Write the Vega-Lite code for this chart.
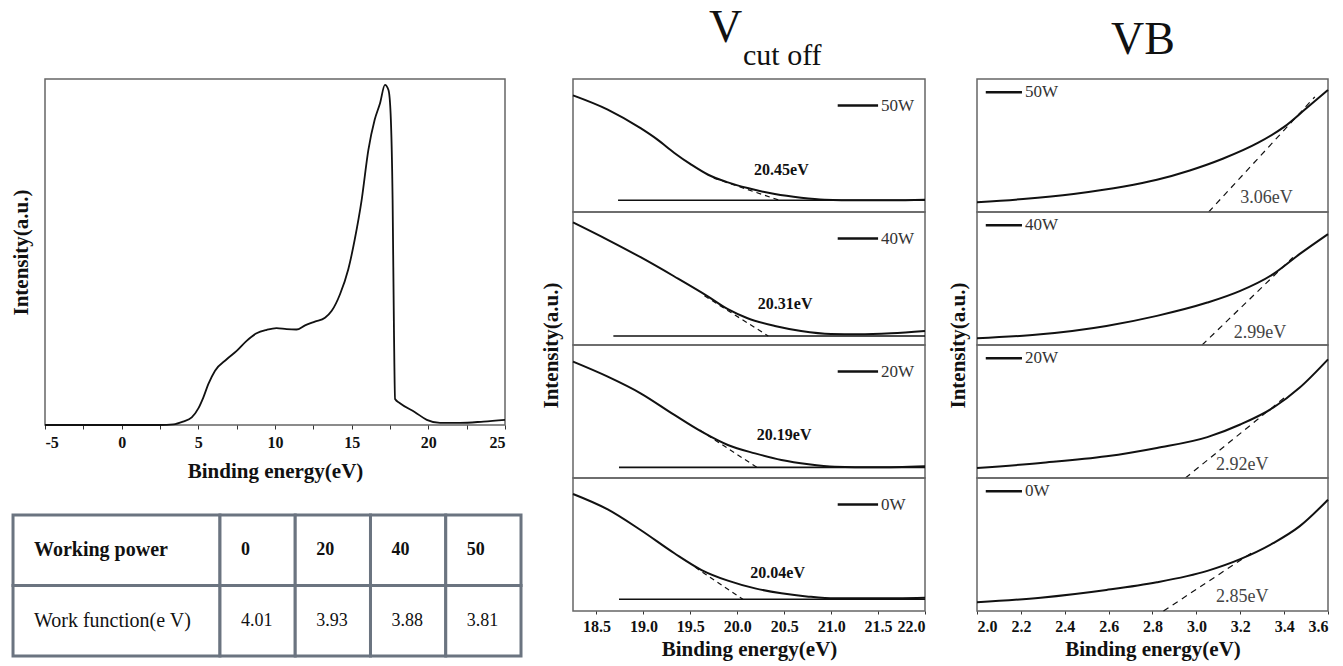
{
  "$schema": "https://vega.github.io/schema/vega-lite/v6.json",
  "padding": {"left": 9, "top": 5, "right": 2, "bottom": 2},
  "spacing": 16,
  "config": {
    "view": {"stroke": "#666", "strokeWidth": 1.5},
    "axis": {"labelFont": "Liberation Serif", "titleFont": "Liberation Serif", "labelFontWeight": "bold", "titleFontWeight": "bold", "labelColor": "#111", "titleColor": "#111", "grid": false, "tickColor": "#333"},
    "title": {"font": "Liberation Serif", "fontSize": 46, "fontWeight": "normal", "anchor": "start", "frame": "group", "color": "#111", "offset": 5}
  },
  "datasets": {
    "ups": [
      {"E": -5, "I": 0}, {"E": -2.5, "I": 0}, {"E": 0, "I": 0}, {"E": 2.5, "I": 0}, {"E": 3.37, "I": 0.2}, {"E": 4.0, "I": 1}, {"E": 4.57, "I": 2.2}, {"E": 5.0, "I": 4.8}, {"E": 5.33, "I": 8}, {"E": 5.65, "I": 11.8}, {"E": 6.09, "I": 15.7}, {"E": 6.85, "I": 19}, {"E": 7.5, "I": 21.4}, {"E": 8.15, "I": 24.3}, {"E": 8.8, "I": 26.5}, {"E": 9.46, "I": 27.5}, {"E": 10.1, "I": 28}, {"E": 10.76, "I": 27.7}, {"E": 11.4, "I": 27.6}, {"E": 11.96, "I": 28.8}, {"E": 12.6, "I": 29.9}, {"E": 13.26, "I": 31}, {"E": 13.7, "I": 33}, {"E": 14.24, "I": 37.8}, {"E": 14.78, "I": 45}, {"E": 15.2, "I": 53.6}, {"E": 15.65, "I": 65}, {"E": 16.09, "I": 79.5}, {"E": 16.5, "I": 88.2}, {"E": 16.85, "I": 93}, {"E": 17.17, "I": 98.3}, {"E": 17.4, "I": 96.8}, {"E": 17.54, "I": 90}, {"E": 17.67, "I": 65}, {"E": 17.76, "I": 26.7}, {"E": 17.83, "I": 7.5}, {"E": 18.15, "I": 6.3}, {"E": 19.13, "I": 3.7}, {"E": 19.9, "I": 1.5}, {"E": 20.76, "I": 0.6}, {"E": 22.07, "I": 0.6}, {"E": 23.6, "I": 1}, {"E": 25, "I": 1.5}
    ],
    "cut": [
      {"p": "50W", "k": "curve", "E": 18.25, "I": 87.7}, {"p": "50W", "k": "curve", "E": 18.62, "I": 77}, {"p": "50W", "k": "curve", "E": 18.97, "I": 63}, {"p": "50W", "k": "curve", "E": 19.15, "I": 54.4}, {"p": "50W", "k": "curve", "E": 19.33, "I": 44.4}, {"p": "50W", "k": "curve", "E": 19.51, "I": 35.6}, {"p": "50W", "k": "curve", "E": 19.69, "I": 28}, {"p": "50W", "k": "curve", "E": 19.9, "I": 22.3}, {"p": "50W", "k": "curve", "E": 20.11, "I": 18}, {"p": "50W", "k": "curve", "E": 20.4, "I": 13.5}, {"p": "50W", "k": "curve", "E": 20.68, "I": 10.8}, {"p": "50W", "k": "curve", "E": 20.93, "I": 9.3}, {"p": "50W", "k": "curve", "E": 21.29, "I": 8.8}, {"p": "50W", "k": "curve", "E": 21.64, "I": 8.8}, {"p": "50W", "k": "curve", "E": 22.0, "I": 9.3},
      {"p": "50W", "k": "base", "E": 18.73, "I": 8.8}, {"p": "50W", "k": "base", "E": 22.0, "I": 8.8},
      {"p": "50W", "k": "tan", "E": 19.75, "I": 25.5}, {"p": "50W", "k": "tan", "E": 20.45, "I": 8.8},
      {"p": "40W", "k": "curve", "E": 18.25, "I": 92.2}, {"p": "40W", "k": "curve", "E": 18.62, "I": 79.1}, {"p": "40W", "k": "curve", "E": 18.97, "I": 66}, {"p": "40W", "k": "curve", "E": 19.33, "I": 51.5}, {"p": "40W", "k": "curve", "E": 19.69, "I": 36.4}, {"p": "40W", "k": "curve", "E": 19.9, "I": 26.9}, {"p": "40W", "k": "curve", "E": 20.11, "I": 20.1}, {"p": "40W", "k": "curve", "E": 20.4, "I": 14.3}, {"p": "40W", "k": "curve", "E": 20.68, "I": 10.6}, {"p": "40W", "k": "curve", "E": 21.0, "I": 8.3}, {"p": "40W", "k": "curve", "E": 21.29, "I": 8}, {"p": "40W", "k": "curve", "E": 21.64, "I": 8.8}, {"p": "40W", "k": "curve", "E": 22.0, "I": 10.6},
      {"p": "40W", "k": "base", "E": 18.68, "I": 6.8}, {"p": "40W", "k": "base", "E": 22.0, "I": 6.8},
      {"p": "40W", "k": "tan", "E": 19.65, "I": 37}, {"p": "40W", "k": "tan", "E": 20.33, "I": 6.8},
      {"p": "20W", "k": "curve", "E": 18.25, "I": 87.5}, {"p": "20W", "k": "curve", "E": 18.62, "I": 76.2}, {"p": "20W", "k": "curve", "E": 18.97, "I": 63.7}, {"p": "20W", "k": "curve", "E": 19.33, "I": 47.4}, {"p": "20W", "k": "curve", "E": 19.62, "I": 34.8}, {"p": "20W", "k": "curve", "E": 19.9, "I": 24.8}, {"p": "20W", "k": "curve", "E": 20.19, "I": 18.5}, {"p": "20W", "k": "curve", "E": 20.47, "I": 13.5}, {"p": "20W", "k": "curve", "E": 20.76, "I": 10.3}, {"p": "20W", "k": "curve", "E": 21.04, "I": 8.5}, {"p": "20W", "k": "curve", "E": 21.47, "I": 8}, {"p": "20W", "k": "curve", "E": 22.0, "I": 8.8},
      {"p": "20W", "k": "base", "E": 18.74, "I": 8}, {"p": "20W", "k": "base", "E": 22.0, "I": 8},
      {"p": "20W", "k": "tan", "E": 19.6, "I": 36}, {"p": "20W", "k": "tan", "E": 20.21, "I": 8},
      {"p": "0W", "k": "curve", "E": 18.25, "I": 88}, {"p": "0W", "k": "curve", "E": 18.62, "I": 76.4}, {"p": "0W", "k": "curve", "E": 18.97, "I": 60.9}, {"p": "0W", "k": "curve", "E": 19.33, "I": 43.4}, {"p": "0W", "k": "curve", "E": 19.62, "I": 30.8}, {"p": "0W", "k": "curve", "E": 19.9, "I": 22.8}, {"p": "0W", "k": "curve", "E": 20.19, "I": 17}, {"p": "0W", "k": "curve", "E": 20.47, "I": 13.3}, {"p": "0W", "k": "curve", "E": 20.76, "I": 10.8}, {"p": "0W", "k": "curve", "E": 21.04, "I": 9.5}, {"p": "0W", "k": "curve", "E": 21.47, "I": 9.5}, {"p": "0W", "k": "curve", "E": 22.0, "I": 10},
      {"p": "0W", "k": "base", "E": 18.74, "I": 8.8}, {"p": "0W", "k": "base", "E": 22.0, "I": 8.8},
      {"p": "0W", "k": "tan", "E": 19.55, "I": 33}, {"p": "0W", "k": "tan", "E": 20.06, "I": 8.8}
    ],
    "vb": [
      {"p": "50W", "k": "curve", "E": 2.0, "I": 7.3}, {"p": "50W", "k": "curve", "E": 2.21, "I": 9.8}, {"p": "50W", "k": "curve", "E": 2.44, "I": 13.6}, {"p": "50W", "k": "curve", "E": 2.67, "I": 19.1}, {"p": "50W", "k": "curve", "E": 2.82, "I": 24.2}, {"p": "50W", "k": "curve", "E": 2.97, "I": 31.2}, {"p": "50W", "k": "curve", "E": 3.12, "I": 40}, {"p": "50W", "k": "curve", "E": 3.28, "I": 51.9}, {"p": "50W", "k": "curve", "E": 3.4, "I": 64}, {"p": "50W", "k": "curve", "E": 3.5, "I": 77.8}, {"p": "50W", "k": "curve", "E": 3.6, "I": 91.7},
      {"p": "50W", "k": "tan", "E": 3.056, "I": 0}, {"p": "50W", "k": "tan", "E": 3.54, "I": 86.6},
      {"p": "40W", "k": "curve", "E": 2.0, "I": 5}, {"p": "40W", "k": "curve", "E": 2.29, "I": 8}, {"p": "40W", "k": "curve", "E": 2.59, "I": 14.3}, {"p": "40W", "k": "curve", "E": 2.82, "I": 21.9}, {"p": "40W", "k": "curve", "E": 3.05, "I": 31.9}, {"p": "40W", "k": "curve", "E": 3.2, "I": 40.7}, {"p": "40W", "k": "curve", "E": 3.35, "I": 53.3}, {"p": "40W", "k": "curve", "E": 3.47, "I": 68.3}, {"p": "40W", "k": "curve", "E": 3.6, "I": 83.4},
      {"p": "40W", "k": "tan", "E": 3.026, "I": 0}, {"p": "40W", "k": "tan", "E": 3.44, "I": 65.8},
      {"p": "20W", "k": "curve", "E": 2.0, "I": 7.5}, {"p": "20W", "k": "curve", "E": 2.29, "I": 11.3}, {"p": "20W", "k": "curve", "E": 2.59, "I": 16.3}, {"p": "20W", "k": "curve", "E": 2.82, "I": 22.6}, {"p": "20W", "k": "curve", "E": 3.05, "I": 30.7}, {"p": "20W", "k": "curve", "E": 3.2, "I": 40.2}, {"p": "20W", "k": "curve", "E": 3.35, "I": 52.8}, {"p": "20W", "k": "curve", "E": 3.47, "I": 67.8}, {"p": "20W", "k": "curve", "E": 3.6, "I": 89.2},
      {"p": "20W", "k": "tan", "E": 2.95, "I": 0}, {"p": "20W", "k": "tan", "E": 3.41, "I": 61.6},
      {"p": "0W", "k": "curve", "E": 2.0, "I": 6.5}, {"p": "0W", "k": "curve", "E": 2.29, "I": 10}, {"p": "0W", "k": "curve", "E": 2.59, "I": 15.8}, {"p": "0W", "k": "curve", "E": 2.82, "I": 21.6}, {"p": "0W", "k": "curve", "E": 3.05, "I": 30.2}, {"p": "0W", "k": "curve", "E": 3.2, "I": 39}, {"p": "0W", "k": "curve", "E": 3.35, "I": 51}, {"p": "0W", "k": "curve", "E": 3.47, "I": 63.6}, {"p": "0W", "k": "curve", "E": 3.6, "I": 83.7},
      {"p": "0W", "k": "tan", "E": 2.85, "I": 0}, {"p": "0W", "k": "tan", "E": 3.25, "I": 43.5}
    ],
    "ann": [
      {"c": "cut", "p": "50W", "E": 20.47, "I": 31.3, "t": "20.45eV"},
      {"c": "cut", "p": "40W", "E": 20.51, "I": 30.9, "t": "20.31eV"},
      {"c": "cut", "p": "20W", "E": 20.5, "I": 32.3, "t": "20.19eV"},
      {"c": "cut", "p": "0W", "E": 20.43, "I": 28.3, "t": "20.04eV"},
      {"c": "vb", "p": "50W", "E": 3.2, "I": 10.3, "t": "3.06eV"},
      {"c": "vb", "p": "40W", "E": 3.17, "I": 9.3, "t": "2.99eV"},
      {"c": "vb", "p": "20W", "E": 3.09, "I": 10, "t": "2.92eV"},
      {"c": "vb", "p": "0W", "E": 3.09, "I": 10.8, "t": "2.85eV"}
    ],
    "leg": [
      {"c": "cut", "p": "50W", "E1": 21.07, "E2": 21.5, "I": 80, "t": "50W"},
      {"c": "cut", "p": "40W", "E1": 21.07, "E2": 21.5, "I": 80, "t": "40W"},
      {"c": "cut", "p": "20W", "E1": 21.07, "E2": 21.5, "I": 80, "t": "20W"},
      {"c": "cut", "p": "0W", "E1": 21.07, "E2": 21.5, "I": 80, "t": "0W"},
      {"c": "vb", "p": "50W", "E1": 2.04, "E2": 2.205, "I": 90, "t": "50W"},
      {"c": "vb", "p": "40W", "E1": 2.04, "E2": 2.205, "I": 90, "t": "40W"},
      {"c": "vb", "p": "20W", "E1": 2.04, "E2": 2.205, "I": 90, "t": "20W"},
      {"c": "vb", "p": "0W", "E1": 2.04, "E2": 2.205, "I": 90, "t": "0W"}
    ],
    "tbl": [
      {"row": 1, "c0": 0, "c1": 2.75, "t": "Working power", "w": "bold"},
      {"row": 1, "c0": 2.75, "c1": 3.75, "t": "0", "w": "bold"},
      {"row": 1, "c0": 3.75, "c1": 4.75, "t": "20", "w": "bold"},
      {"row": 1, "c0": 4.75, "c1": 5.75, "t": "40", "w": "bold"},
      {"row": 1, "c0": 5.75, "c1": 6.75, "t": "50", "w": "bold"},
      {"row": 2, "c0": 0, "c1": 2.75, "t": "Work function(e  V)", "w": "normal"},
      {"row": 2, "c0": 2.75, "c1": 3.75, "t": "4.01", "w": "normal"},
      {"row": 2, "c0": 3.75, "c1": 4.75, "t": "3.93", "w": "normal"},
      {"row": 2, "c0": 4.75, "c1": 5.75, "t": "3.88", "w": "normal"},
      {"row": 2, "c0": 5.75, "c1": 6.75, "t": "3.81", "w": "normal"}
    ]
  },
  "hconcat": [
    {
      "title": {"text": "\u00a0", "offset": 21},
      "spacing": 31,
      "vconcat": [
        {
          "width": 460, "height": 346,
          "data": {"name": "ups"},
          "mark": {"type": "line", "color": "#111", "strokeWidth": 1.8, "interpolate": "monotone"},
          "encoding": {
            "x": {"field": "E", "type": "quantitative", "scale": {"domain": [-5, 25], "nice": false, "zero": false},
                  "axis": {"title": "Binding energy(eV)", "values": [-5, -2.5, 0, 2.5, 5, 7.5, 10, 12.5, 15, 17.5, 20, 22.5, 25], "labelExpr": "datum.value % 5 === 0 ? datum.value + '' : ''", "domain": false, "tickSize": 4, "labelFont": "Liberation Serif", "labelFontWeight": "bold", "labelFontSize": 16, "titleFontSize": 21, "labelPadding": 5, "titlePadding": 10}},
            "y": {"field": "I", "type": "quantitative", "scale": {"domain": [0, 100], "nice": false},
                  "axis": {"title": "Intensity(a.u.)", "labels": false, "ticks": false, "domain": false, "titleFontSize": 21, "titlePadding": 14}}
          }
        },
        {
          "width": 476, "height": 141,
          "view": {"stroke": null},
          "data": {"name": "tbl"},
          "layer": [
            {"mark": {"type": "rect", "fill": "white", "stroke": "#6b7480", "strokeWidth": 3},
             "encoding": {
               "x": {"field": "c0", "type": "quantitative", "scale": {"domain": [0.425, 6.75], "nice": false, "zero": false}, "axis": null},
               "x2": {"field": "c1"},
               "y": {"field": "row", "type": "ordinal", "scale": {"paddingInner": 0, "paddingOuter": 0}, "axis": null}
             }},
            {"transform": [{"filter": "datum.w === 'bold'"}],
             "mark": {"type": "text", "align": "left", "baseline": "middle", "dx": 21, "font": "Liberation Serif", "fontWeight": "bold", "color": "#111"},
             "encoding": {
               "x": {"field": "c0", "type": "quantitative"},
               "y": {"field": "row", "type": "ordinal"},
               "text": {"field": "t"},
               "size": {"condition": {"test": "datum.c0 === 0", "value": 20}, "value": 18}
             }},
            {"transform": [{"filter": "datum.w === 'normal'"}],
             "mark": {"type": "text", "align": "left", "baseline": "middle", "dx": 21, "font": "Liberation Serif", "fontWeight": "normal", "color": "#111"},
             "encoding": {
               "x": {"field": "c0", "type": "quantitative"},
               "y": {"field": "row", "type": "ordinal"},
               "text": {"field": "t"},
               "size": {"condition": {"test": "datum.c0 === 0", "value": 20}, "value": 18}
             }}
          ]
        }
      ]
    },
    {
      "title": {"text": "V", "dx": 136, "offset": -12},
      "bounds": "flush",
      "spacing": 0,
      "vconcat": [
        {"width": 352, "height": 133,
         "title": {"text": "cut off", "fontSize": 30, "dx": 170, "offset": 8},
         "layer": [
           {"data": {"name": "cut"}, "transform": [{"filter": "datum.p === '50W' && datum.k === 'curve'"}], "mark": {"type": "line", "color": "#111", "strokeWidth": 2, "interpolate": "monotone"},
            "encoding": {"x": {"field": "E", "type": "quantitative", "scale": {"domain": [18.25, 22], "nice": false, "zero": false}, "axis": null}, "y": {"field": "I", "type": "quantitative", "scale": {"domain": [0, 100], "nice": false}, "axis": null}}},
           {"data": {"name": "cut"}, "transform": [{"filter": "datum.p === '50W' && datum.k === 'base'"}], "mark": {"type": "line", "color": "#111", "strokeWidth": 1.6},
            "encoding": {"x": {"field": "E", "type": "quantitative"}, "y": {"field": "I", "type": "quantitative"}}},
           {"data": {"name": "cut"}, "transform": [{"filter": "datum.p === '50W' && datum.k === 'tan'"}], "mark": {"type": "line", "color": "#111", "strokeWidth": 1.2, "strokeDash": [5, 4]},
            "encoding": {"x": {"field": "E", "type": "quantitative"}, "y": {"field": "I", "type": "quantitative"}}},
           {"data": {"name": "ann"}, "transform": [{"filter": "datum.c === 'cut' && datum.p === '50W'"}], "mark": {"type": "text", "font": "Liberation Serif", "fontWeight": "bold", "fontSize": 16, "color": "#111"},
            "encoding": {"x": {"field": "E", "type": "quantitative"}, "y": {"field": "I", "type": "quantitative"}, "text": {"field": "t"}}},
           {"data": {"name": "leg"}, "transform": [{"filter": "datum.c === 'cut' && datum.p === '50W'"}], "mark": {"type": "rule", "color": "#111", "strokeWidth": 2.5},
            "encoding": {"x": {"field": "E1", "type": "quantitative"}, "x2": {"field": "E2"}, "y": {"field": "I", "type": "quantitative"}}},
           {"data": {"name": "leg"}, "transform": [{"filter": "datum.c === 'cut' && datum.p === '50W'"}], "mark": {"type": "text", "align": "left", "baseline": "middle", "dx": 3, "font": "Liberation Serif", "fontSize": 17, "color": "#333"},
            "encoding": {"x": {"field": "E2", "type": "quantitative"}, "y": {"field": "I", "type": "quantitative"}, "text": {"field": "t"}}}
         ]},
        {"width": 352, "height": 133,
         "layer": [
           {"data": {"name": "cut"}, "transform": [{"filter": "datum.p === '40W' && datum.k === 'curve'"}], "mark": {"type": "line", "color": "#111", "strokeWidth": 2, "interpolate": "monotone"},
            "encoding": {"x": {"field": "E", "type": "quantitative", "scale": {"domain": [18.25, 22], "nice": false, "zero": false}, "axis": null}, "y": {"field": "I", "type": "quantitative", "scale": {"domain": [0, 100], "nice": false}, "axis": {"title": "Intensity(a.u.)", "labels": false, "ticks": false, "domain": false, "titleFontSize": 21, "titlePadding": 12, "titleY": 133}}}},
           {"data": {"name": "cut"}, "transform": [{"filter": "datum.p === '40W' && datum.k === 'base'"}], "mark": {"type": "line", "color": "#111", "strokeWidth": 1.6},
            "encoding": {"x": {"field": "E", "type": "quantitative"}, "y": {"field": "I", "type": "quantitative"}}},
           {"data": {"name": "cut"}, "transform": [{"filter": "datum.p === '40W' && datum.k === 'tan'"}], "mark": {"type": "line", "color": "#111", "strokeWidth": 1.2, "strokeDash": [5, 4]},
            "encoding": {"x": {"field": "E", "type": "quantitative"}, "y": {"field": "I", "type": "quantitative"}}},
           {"data": {"name": "ann"}, "transform": [{"filter": "datum.c === 'cut' && datum.p === '40W'"}], "mark": {"type": "text", "font": "Liberation Serif", "fontWeight": "bold", "fontSize": 16, "color": "#111"},
            "encoding": {"x": {"field": "E", "type": "quantitative"}, "y": {"field": "I", "type": "quantitative"}, "text": {"field": "t"}}},
           {"data": {"name": "leg"}, "transform": [{"filter": "datum.c === 'cut' && datum.p === '40W'"}], "mark": {"type": "rule", "color": "#111", "strokeWidth": 2.5},
            "encoding": {"x": {"field": "E1", "type": "quantitative"}, "x2": {"field": "E2"}, "y": {"field": "I", "type": "quantitative"}}},
           {"data": {"name": "leg"}, "transform": [{"filter": "datum.c === 'cut' && datum.p === '40W'"}], "mark": {"type": "text", "align": "left", "baseline": "middle", "dx": 3, "font": "Liberation Serif", "fontSize": 17, "color": "#333"},
            "encoding": {"x": {"field": "E2", "type": "quantitative"}, "y": {"field": "I", "type": "quantitative"}, "text": {"field": "t"}}}
         ]},
        {"width": 352, "height": 133,
         "layer": [
           {"data": {"name": "cut"}, "transform": [{"filter": "datum.p === '20W' && datum.k === 'curve'"}], "mark": {"type": "line", "color": "#111", "strokeWidth": 2, "interpolate": "monotone"},
            "encoding": {"x": {"field": "E", "type": "quantitative", "scale": {"domain": [18.25, 22], "nice": false, "zero": false}, "axis": null}, "y": {"field": "I", "type": "quantitative", "scale": {"domain": [0, 100], "nice": false}, "axis": null}}},
           {"data": {"name": "cut"}, "transform": [{"filter": "datum.p === '20W' && datum.k === 'base'"}], "mark": {"type": "line", "color": "#111", "strokeWidth": 1.6},
            "encoding": {"x": {"field": "E", "type": "quantitative"}, "y": {"field": "I", "type": "quantitative"}}},
           {"data": {"name": "cut"}, "transform": [{"filter": "datum.p === '20W' && datum.k === 'tan'"}], "mark": {"type": "line", "color": "#111", "strokeWidth": 1.2, "strokeDash": [5, 4]},
            "encoding": {"x": {"field": "E", "type": "quantitative"}, "y": {"field": "I", "type": "quantitative"}}},
           {"data": {"name": "ann"}, "transform": [{"filter": "datum.c === 'cut' && datum.p === '20W'"}], "mark": {"type": "text", "font": "Liberation Serif", "fontWeight": "bold", "fontSize": 16, "color": "#111"},
            "encoding": {"x": {"field": "E", "type": "quantitative"}, "y": {"field": "I", "type": "quantitative"}, "text": {"field": "t"}}},
           {"data": {"name": "leg"}, "transform": [{"filter": "datum.c === 'cut' && datum.p === '20W'"}], "mark": {"type": "rule", "color": "#111", "strokeWidth": 2.5},
            "encoding": {"x": {"field": "E1", "type": "quantitative"}, "x2": {"field": "E2"}, "y": {"field": "I", "type": "quantitative"}}},
           {"data": {"name": "leg"}, "transform": [{"filter": "datum.c === 'cut' && datum.p === '20W'"}], "mark": {"type": "text", "align": "left", "baseline": "middle", "dx": 3, "font": "Liberation Serif", "fontSize": 17, "color": "#333"},
            "encoding": {"x": {"field": "E2", "type": "quantitative"}, "y": {"field": "I", "type": "quantitative"}, "text": {"field": "t"}}}
         ]},
        {"width": 352, "height": 133,
         "layer": [
           {"data": {"name": "cut"}, "transform": [{"filter": "datum.p === '0W' && datum.k === 'curve'"}], "mark": {"type": "line", "color": "#111", "strokeWidth": 2, "interpolate": "monotone"},
            "encoding": {"x": {"field": "E", "type": "quantitative", "scale": {"domain": [18.25, 22], "nice": false, "zero": false}, "axis": {"title": "Binding energy(eV)", "values": [18.5, 19, 19.5, 20, 20.5, 21, 21.5, 22], "format": ".1f", "labelFlush": true, "domain": false, "tickSize": 3, "labelFont": "Liberation Serif", "labelFontWeight": "bold", "labelFontSize": 16, "titleFontSize": 21, "labelPadding": 4, "titlePadding": 4}}, "y": {"field": "I", "type": "quantitative", "scale": {"domain": [0, 100], "nice": false}, "axis": null}}},
           {"data": {"name": "cut"}, "transform": [{"filter": "datum.p === '0W' && datum.k === 'base'"}], "mark": {"type": "line", "color": "#111", "strokeWidth": 1.6},
            "encoding": {"x": {"field": "E", "type": "quantitative"}, "y": {"field": "I", "type": "quantitative"}}},
           {"data": {"name": "cut"}, "transform": [{"filter": "datum.p === '0W' && datum.k === 'tan'"}], "mark": {"type": "line", "color": "#111", "strokeWidth": 1.2, "strokeDash": [5, 4]},
            "encoding": {"x": {"field": "E", "type": "quantitative"}, "y": {"field": "I", "type": "quantitative"}}},
           {"data": {"name": "ann"}, "transform": [{"filter": "datum.c === 'cut' && datum.p === '0W'"}], "mark": {"type": "text", "font": "Liberation Serif", "fontWeight": "bold", "fontSize": 16, "color": "#111"},
            "encoding": {"x": {"field": "E", "type": "quantitative"}, "y": {"field": "I", "type": "quantitative"}, "text": {"field": "t"}}},
           {"data": {"name": "leg"}, "transform": [{"filter": "datum.c === 'cut' && datum.p === '0W'"}], "mark": {"type": "rule", "color": "#111", "strokeWidth": 2.5},
            "encoding": {"x": {"field": "E1", "type": "quantitative"}, "x2": {"field": "E2"}, "y": {"field": "I", "type": "quantitative"}}},
           {"data": {"name": "leg"}, "transform": [{"filter": "datum.c === 'cut' && datum.p === '0W'"}], "mark": {"type": "text", "align": "left", "baseline": "middle", "dx": 3, "font": "Liberation Serif", "fontSize": 17, "color": "#333"},
            "encoding": {"x": {"field": "E2", "type": "quantitative"}, "y": {"field": "I", "type": "quantitative"}, "text": {"field": "t"}}}
         ]}
      ]
    },
    {
      "title": {"text": "VB", "dx": 134, "dy": 7, "offset": 21},
      "bounds": "flush",
      "spacing": 0,
      "vconcat": [
        {"width": 351, "height": 133,
         "layer": [
           {"data": {"name": "vb"}, "transform": [{"filter": "datum.p === '50W' && datum.k === 'curve'"}], "mark": {"type": "line", "color": "#111", "strokeWidth": 2, "interpolate": "monotone"},
            "encoding": {"x": {"field": "E", "type": "quantitative", "scale": {"domain": [2.0, 3.6], "nice": false, "zero": false}, "axis": null}, "y": {"field": "I", "type": "quantitative", "scale": {"domain": [0, 100], "nice": false}, "axis": null}}},
           {"data": {"name": "vb"}, "transform": [{"filter": "datum.p === '50W' && datum.k === 'tan'"}], "mark": {"type": "line", "color": "#111", "strokeWidth": 1.2, "strokeDash": [6, 5]},
            "encoding": {"x": {"field": "E", "type": "quantitative"}, "y": {"field": "I", "type": "quantitative"}}},
           {"data": {"name": "ann"}, "transform": [{"filter": "datum.c === 'vb' && datum.p === '50W'"}], "mark": {"type": "text", "align": "left", "baseline": "middle", "font": "Liberation Serif", "fontSize": 18, "color": "#444"},
            "encoding": {"x": {"field": "E", "type": "quantitative"}, "y": {"field": "I", "type": "quantitative"}, "text": {"field": "t"}}},
           {"data": {"name": "leg"}, "transform": [{"filter": "datum.c === 'vb' && datum.p === '50W'"}], "mark": {"type": "rule", "color": "#111", "strokeWidth": 2.5},
            "encoding": {"x": {"field": "E1", "type": "quantitative"}, "x2": {"field": "E2"}, "y": {"field": "I", "type": "quantitative"}}},
           {"data": {"name": "leg"}, "transform": [{"filter": "datum.c === 'vb' && datum.p === '50W'"}], "mark": {"type": "text", "align": "left", "baseline": "middle", "dx": 3, "font": "Liberation Serif", "fontSize": 17, "color": "#333"},
            "encoding": {"x": {"field": "E2", "type": "quantitative"}, "y": {"field": "I", "type": "quantitative"}, "text": {"field": "t"}}}
         ]},
        {"width": 351, "height": 133,
         "layer": [
           {"data": {"name": "vb"}, "transform": [{"filter": "datum.p === '40W' && datum.k === 'curve'"}], "mark": {"type": "line", "color": "#111", "strokeWidth": 2, "interpolate": "monotone"},
            "encoding": {"x": {"field": "E", "type": "quantitative", "scale": {"domain": [2.0, 3.6], "nice": false, "zero": false}, "axis": null}, "y": {"field": "I", "type": "quantitative", "scale": {"domain": [0, 100], "nice": false}, "axis": {"title": "Intensity(a.u.)", "labels": false, "ticks": false, "domain": false, "titleFontSize": 21, "titlePadding": 9, "titleY": 133}}}},
           {"data": {"name": "vb"}, "transform": [{"filter": "datum.p === '40W' && datum.k === 'tan'"}], "mark": {"type": "line", "color": "#111", "strokeWidth": 1.2, "strokeDash": [6, 5]},
            "encoding": {"x": {"field": "E", "type": "quantitative"}, "y": {"field": "I", "type": "quantitative"}}},
           {"data": {"name": "ann"}, "transform": [{"filter": "datum.c === 'vb' && datum.p === '40W'"}], "mark": {"type": "text", "align": "left", "baseline": "middle", "font": "Liberation Serif", "fontSize": 18, "color": "#444"},
            "encoding": {"x": {"field": "E", "type": "quantitative"}, "y": {"field": "I", "type": "quantitative"}, "text": {"field": "t"}}},
           {"data": {"name": "leg"}, "transform": [{"filter": "datum.c === 'vb' && datum.p === '40W'"}], "mark": {"type": "rule", "color": "#111", "strokeWidth": 2.5},
            "encoding": {"x": {"field": "E1", "type": "quantitative"}, "x2": {"field": "E2"}, "y": {"field": "I", "type": "quantitative"}}},
           {"data": {"name": "leg"}, "transform": [{"filter": "datum.c === 'vb' && datum.p === '40W'"}], "mark": {"type": "text", "align": "left", "baseline": "middle", "dx": 3, "font": "Liberation Serif", "fontSize": 17, "color": "#333"},
            "encoding": {"x": {"field": "E2", "type": "quantitative"}, "y": {"field": "I", "type": "quantitative"}, "text": {"field": "t"}}}
         ]},
        {"width": 351, "height": 133,
         "layer": [
           {"data": {"name": "vb"}, "transform": [{"filter": "datum.p === '20W' && datum.k === 'curve'"}], "mark": {"type": "line", "color": "#111", "strokeWidth": 2, "interpolate": "monotone"},
            "encoding": {"x": {"field": "E", "type": "quantitative", "scale": {"domain": [2.0, 3.6], "nice": false, "zero": false}, "axis": null}, "y": {"field": "I", "type": "quantitative", "scale": {"domain": [0, 100], "nice": false}, "axis": null}}},
           {"data": {"name": "vb"}, "transform": [{"filter": "datum.p === '20W' && datum.k === 'tan'"}], "mark": {"type": "line", "color": "#111", "strokeWidth": 1.2, "strokeDash": [6, 5]},
            "encoding": {"x": {"field": "E", "type": "quantitative"}, "y": {"field": "I", "type": "quantitative"}}},
           {"data": {"name": "ann"}, "transform": [{"filter": "datum.c === 'vb' && datum.p === '20W'"}], "mark": {"type": "text", "align": "left", "baseline": "middle", "font": "Liberation Serif", "fontSize": 18, "color": "#444"},
            "encoding": {"x": {"field": "E", "type": "quantitative"}, "y": {"field": "I", "type": "quantitative"}, "text": {"field": "t"}}},
           {"data": {"name": "leg"}, "transform": [{"filter": "datum.c === 'vb' && datum.p === '20W'"}], "mark": {"type": "rule", "color": "#111", "strokeWidth": 2.5},
            "encoding": {"x": {"field": "E1", "type": "quantitative"}, "x2": {"field": "E2"}, "y": {"field": "I", "type": "quantitative"}}},
           {"data": {"name": "leg"}, "transform": [{"filter": "datum.c === 'vb' && datum.p === '20W'"}], "mark": {"type": "text", "align": "left", "baseline": "middle", "dx": 3, "font": "Liberation Serif", "fontSize": 17, "color": "#333"},
            "encoding": {"x": {"field": "E2", "type": "quantitative"}, "y": {"field": "I", "type": "quantitative"}, "text": {"field": "t"}}}
         ]},
        {"width": 351, "height": 133,
         "layer": [
           {"data": {"name": "vb"}, "transform": [{"filter": "datum.p === '0W' && datum.k === 'curve'"}], "mark": {"type": "line", "color": "#111", "strokeWidth": 2, "interpolate": "monotone"},
            "encoding": {"x": {"field": "E", "type": "quantitative", "scale": {"domain": [2.0, 3.6], "nice": false, "zero": false}, "axis": {"title": "Binding energy(eV)", "values": [2.0, 2.2, 2.4, 2.6, 2.8, 3.0, 3.2, 3.4, 3.6], "format": ".1f", "domain": false, "tickSize": 3, "labelFont": "Liberation Serif", "labelFontWeight": "bold", "labelFontSize": 16, "titleFontSize": 21, "labelPadding": 4, "titlePadding": 4}}, "y": {"field": "I", "type": "quantitative", "scale": {"domain": [0, 100], "nice": false}, "axis": null}}},
           {"data": {"name": "vb"}, "transform": [{"filter": "datum.p === '0W' && datum.k === 'tan'"}], "mark": {"type": "line", "color": "#111", "strokeWidth": 1.2, "strokeDash": [6, 5]},
            "encoding": {"x": {"field": "E", "type": "quantitative"}, "y": {"field": "I", "type": "quantitative"}}},
           {"data": {"name": "ann"}, "transform": [{"filter": "datum.c === 'vb' && datum.p === '0W'"}], "mark": {"type": "text", "align": "left", "baseline": "middle", "font": "Liberation Serif", "fontSize": 18, "color": "#444"},
            "encoding": {"x": {"field": "E", "type": "quantitative"}, "y": {"field": "I", "type": "quantitative"}, "text": {"field": "t"}}},
           {"data": {"name": "leg"}, "transform": [{"filter": "datum.c === 'vb' && datum.p === '0W'"}], "mark": {"type": "rule", "color": "#111", "strokeWidth": 2.5},
            "encoding": {"x": {"field": "E1", "type": "quantitative"}, "x2": {"field": "E2"}, "y": {"field": "I", "type": "quantitative"}}},
           {"data": {"name": "leg"}, "transform": [{"filter": "datum.c === 'vb' && datum.p === '0W'"}], "mark": {"type": "text", "align": "left", "baseline": "middle", "dx": 3, "font": "Liberation Serif", "fontSize": 17, "color": "#333"},
            "encoding": {"x": {"field": "E2", "type": "quantitative"}, "y": {"field": "I", "type": "quantitative"}, "text": {"field": "t"}}}
         ]}
      ]
    }
  ]
}
